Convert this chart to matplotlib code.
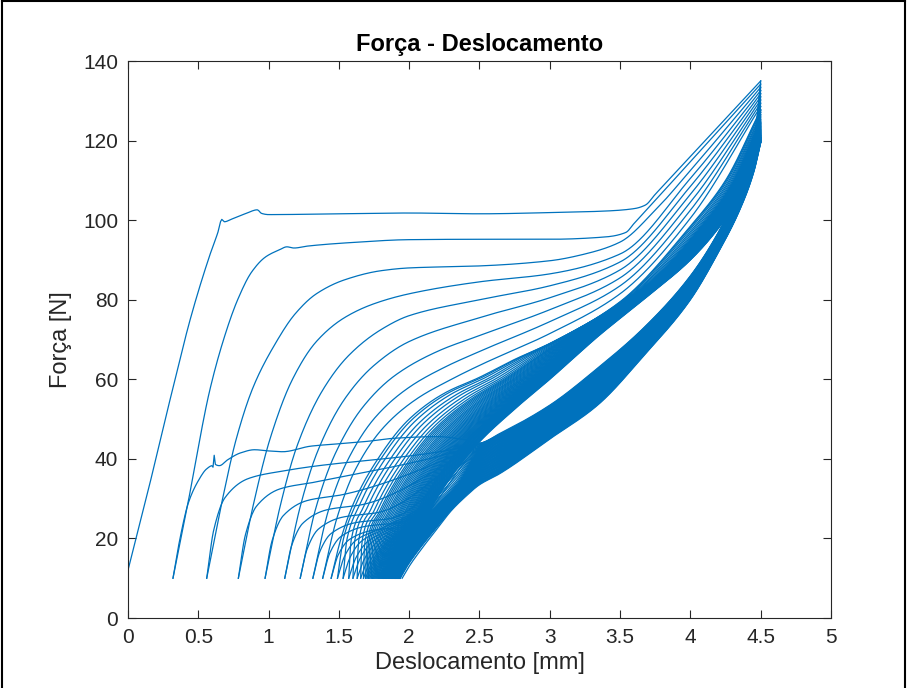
import numpy as np
import matplotlib
matplotlib.use("Agg")
import matplotlib.pyplot as plt
from matplotlib.lines import Line2D

# ---------------- data ----------------
# first (virgin) loading curve, starts at the origin
load1_x = [0.0, 0.15, 0.3, 0.45, 0.58, 0.64, 0.667, 0.685, 0.74, 0.84, 0.92, 0.95, 1.0, 1.5, 2.0, 2.5, 3.0, 3.4, 3.6, 3.68, 3.75, 4.1, 4.5]
load1_f = [12.0, 33.0, 55.0, 76.0, 91.0, 97.0, 100.2, 99.6, 100.3, 101.7, 102.6, 101.7, 101.4, 101.6, 101.8, 101.6, 101.9, 102.3, 102.9, 103.8, 106.5, 119.8, 135.0]

# distinct reloading curves (key points)
reload_x = [
    [0.32, 0.43, 0.50, 0.58, 0.68, 0.78, 0.88, 0.98, 1.08, 1.13, 1.18, 1.28, 1.6, 2.0, 2.5, 3.0, 3.4, 3.54, 3.6, 4.0, 4.5],
    [0.56, 0.67, 0.77, 0.89, 1.04, 1.19, 1.34, 1.54, 1.8, 2.0, 2.5, 3.0, 3.25, 3.5, 3.75, 4.0, 4.5],
    [0.785, 0.895, 1.01, 1.17, 1.34, 1.54, 1.75, 2.0, 2.5, 3.0, 3.5, 4.0, 4.5],
    [0.975, 1.085, 1.2, 1.38, 1.57, 1.8, 2.0, 2.5, 3.0, 3.5, 4.0, 4.5],
    [1.115, 1.225, 1.35, 1.54, 1.75, 2.0, 2.5, 3.0, 3.5, 4.0, 4.5],
    [1.225, 1.335, 1.47, 1.67, 1.9, 2.2, 2.5, 3.0, 3.5, 4.0, 4.5],
    [1.315, 1.425, 1.56, 1.76, 2.0, 2.25, 2.5, 3.0, 3.5, 4.0, 4.5],
    [1.385, 1.485, 1.62, 1.82, 2.05, 2.3, 2.5, 3.0, 3.5, 4.0, 4.5],
    [1.445, 1.515, 1.60, 1.75, 2.0, 2.25, 2.5, 2.75, 3.0, 3.5, 4.0, 4.25, 4.5],
]
reload_f = [
    [10, 29.5, 43, 57, 70, 80, 87, 90.8, 92.6, 93.3, 93.0, 93.5, 94.4, 95.1, 95.2, 95.2, 95.8, 96.9, 99.2, 114.7, 134.2],
    [10, 29.5, 45, 58, 68.5, 76.5, 81.5, 85, 87.3, 88.0, 88.5, 89.8, 91.5, 94.5, 102.5, 112.5, 133.4],
    [10, 29, 45, 60, 69.5, 75.5, 79, 81.5, 84.5, 86.5, 91.5, 110.5, 132.6],
    [10, 28.5, 43, 57, 66, 72.5, 76, 80, 83.5, 89.5, 108.5, 131.8],
    [10, 28, 42, 55, 63.5, 69.5, 75.5, 80.5, 87.5, 106.5, 131.0],
    [10, 27.5, 41, 53, 61, 67, 71, 77.5, 85.5, 104.5, 130.2],
    [10, 27, 39.5, 50.5, 58, 63, 67, 74.5, 83.5, 102.5, 129.4],
    [10, 25, 37.5, 48, 55, 60, 63.5, 71.5, 81.5, 100.5, 128.6],
    [10, 20, 28.5, 38.5, 50, 56.5, 60.5, 65, 69, 79.5, 98.5, 110, 127.8],
]
# last reloading curve (lower edge of the upper band = upper edge of the white gap)
reload_last_x = [1.936, 2.0, 2.1, 2.25, 2.48, 2.75, 3.0, 3.34, 3.7, 4.0, 4.2, 4.35, 4.5]
reload_last_f = [10, 16, 24, 33, 43.5, 52.5, 60, 70.7, 81, 90, 98, 106, 119.5]

# bases (F = 10 N) of the densely packed later cycles
dense_bases = [1.49, 1.53, 1.57, 1.60, 1.63, 1.655, 1.675, 1.69, 1.70, 1.71, 1.72, 1.73,
               1.74, 1.748, 1.756, 1.764, 1.772, 1.78, 1.787, 1.794, 1.80, 1.806, 1.812,
               1.818, 1.824, 1.829, 1.834, 1.839, 1.844, 1.849, 1.853, 1.857, 1.861, 1.865,
               1.869, 1.873, 1.877, 1.88, 1.883, 1.886, 1.889, 1.892, 1.895, 1.898, 1.901,
               1.904, 1.907, 1.91, 1.913, 1.916, 1.919, 1.922, 1.925, 1.928, 1.931, 1.934]
last_base = 1.95

# first unloading curve, left part (with the small spike near 0.61 mm)
unload1_x = [0.32, 0.37, 0.43, 0.50, 0.56, 0.60, 0.607, 0.612, 0.622, 0.65, 0.71, 0.8, 0.9, 1.0, 1.1, 1.3, 1.5, 1.7, 1.9, 2.2, 2.4]
unload1_f = [10, 20, 29, 34.5, 37.5, 38.3, 37.8, 41.0, 38.6, 38.3, 39.8, 41.5, 42.3, 42.0, 41.8, 43.2, 43.8, 44.4, 45.2, 45.6, 44.8]
# plateau level of the next unloading curves (U2..U9)
unload_levels = [37.0, 34.2, 31.0, 28.5, 26.5, 25.0, 24.0, 23.0]
# left parts of the first and last of the dense unloading curves
unload_a_x = [1.49, 1.54, 1.62, 1.80, 2.05, 2.30]
unload_a_f = [10, 15.5, 19.5, 22.5, 27.0, 36.0]
unload_b_x = [1.95, 2.00, 2.08, 2.20, 2.30, 2.40]
unload_b_f = [10, 13.0, 17.0, 22.5, 27.0, 30.5]

# lower band (unloading branch) edges
band_x = [2.5, 2.64, 3.0, 3.34, 3.67, 4.0, 4.2, 4.35, 4.45]
band_top = [44.0, 46.3, 53.5, 62.8, 73.0, 86.0, 97.0, 108.0, 119.0]
band_bot = [33.5, 36.2, 45.0, 53.5, 66.0, 80.0, 92.0, 102.5, 112.0]

xticks = [0, 0.5, 1, 1.5, 2, 2.5, 3, 3.5, 4, 4.5, 5]
xtick_labels = ["0", "0.5", "1", "1.5", "2", "2.5", "3", "3.5", "4", "4.5", "5"]
yticks = [0, 20, 40, 60, 80, 100, 120, 140]

COLOR = "#0072BD"


def pchip(xk, yk, xs):
    xk = np.asarray(xk, float); yk = np.asarray(yk, float)
    h = np.diff(xk); d = np.diff(yk) / h
    n = len(xk); m = np.zeros(n)
    for i in range(1, n - 1):
        if d[i - 1] * d[i] > 0:
            w1 = 2 * h[i] + h[i - 1]; w2 = h[i] + 2 * h[i - 1]
            m[i] = (w1 + w2) / (w1 / d[i - 1] + w2 / d[i])
    m[0] = d[0]; m[-1] = d[-1]
    idx = np.clip(np.searchsorted(xk, xs, side="right") - 1, 0, n - 2)
    t = (xs - xk[idx]) / h[idx]
    h00 = 2 * t**3 - 3 * t**2 + 1; h10 = t**3 - 2 * t**2 + t
    h01 = -2 * t**3 + 3 * t**2; h11 = t**3 - t**2
    return h00 * yk[idx] + h10 * h[idx] * m[idx] + h01 * yk[idx + 1] + h11 * h[idx] * m[idx + 1]


def curve(xk, fk, n=500):
    xs = np.linspace(xk[0], xk[-1], n)
    return xs, pchip(xk, fk, xs)


# ---------------- build cycles ----------------
loads = []
xs, fs = curve(load1_x, load1_f)
loads.append((np.r_[0.0, xs], np.r_[0.0, fs]))
for xk, fk in zip(reload_x, reload_f):
    loads.append(curve(xk, fk))
rx10 = np.array(reload_x[-1]); rf10 = np.array(reload_f[-1])
rxl = np.array(reload_last_x); rfl = np.array(reload_last_f)
dense_all = dense_bases + [reload_last_x[0]]
for b in dense_all:
    t = ((b - rx10[0]) / (rxl[0] - rx10[0])) ** 1.4
    xk = (1 - t) * rx10 + t * rxl
    xk[0] = b
    loads.append(curve(xk, (1 - t) * rf10 + t * rfl))

N = len(loads)
bases = [r[0] for r in reload_x] + dense_all + [last_base]
peaks = [ld[1][-1] for ld in loads]

bt = np.array(band_top); bb = np.array(band_bot)
ua_x = np.array(unload_a_x); ua_f = np.array(unload_a_f)
ub_x = np.array(unload_b_x); ub_f = np.array(unload_b_f)
unloads = []
for k in range(N):
    s = k / (N - 1)
    band = (1 - s) * bt + s * bb
    b = bases[k]
    if k == 0:
        px = list(unload1_x); pf = list(unload1_f)
    elif k - 1 < len(unload_levels):
        lev = unload_levels[k - 1]
        px = [b, b + 0.05, b + 0.13, b + 0.3, b + 0.55]
        pf = [10, 10 + 0.45 * (lev - 10), 10 + 0.75 * (lev - 10), 10 + 0.93 * (lev - 10), lev]
        px = [p for p in px if p < 2.4]; pf = pf[:len(px)]
    else:
        t = (b - ua_x[0]) / (ub_x[0] - ua_x[0])
        px = list((1 - t) * ua_x + t * ub_x); pf = list((1 - t) * ua_f + t * ub_f)
    px += band_x + [4.5]
    pf += list(band) + [peaks[k]]
    unloads.append(curve(px, pf))

# ---------------- draw ----------------
plt.rcParams['font.family'] = ['Liberation Sans', 'DejaVu Sans']
fig = plt.figure(figsize=(9.07, 6.88), dpi=100)
ax = fig.add_axes([0.1411, 0.1017, 0.7751, 0.8096])

for k in range(N):
    ax.plot(loads[k][0], loads[k][1], color=COLOR, lw=0.9)
    ax.plot(unloads[k][0], unloads[k][1], color=COLOR, lw=0.9)

ax.set_xlim(0, 5)
ax.set_ylim(0, 140)
ax.set_xticks(xticks)
ax.set_xticklabels(xtick_labels)
ax.set_yticks(yticks)
ax.tick_params(direction="in", top=True, right=True, length=6, width=0.8,
               labelsize=15, colors="#262626", pad=7)
for sp in ax.spines.values():
    sp.set_color("#262626"); sp.set_linewidth(0.8)
ax.set_title("Força - Deslocamento", fontsize=17, fontweight="bold", color="#000000", pad=7)
ax.set_xlabel("Deslocamento [mm]", fontsize=17, color="#262626", labelpad=4)
ax.set_ylabel("Força [N]", fontsize=17, color="#262626", labelpad=8)

# thin frame around the picture (left, top, right)
for xx, yy in [([0.002, 0.002], [0.0, 0.998]), ([0.002, 0.998], [0.998, 0.998]), ([0.998, 0.998], [0.998, 0.0])]:
    fig.add_artist(Line2D(xx, yy, transform=fig.transFigure, color="black", lw=1.5))
fig.savefig("out.png", dpi=100, facecolor="white")
